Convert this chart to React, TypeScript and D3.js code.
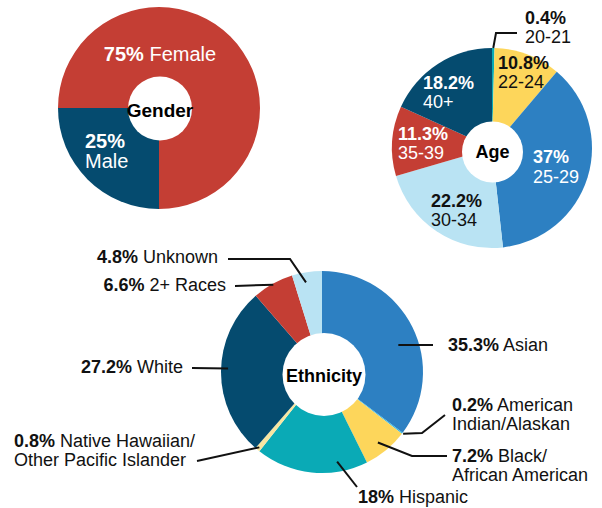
import React from "react";
import * as d3 from "d3";

// ---------- data ----------
const genderLabels = ["Female", "Male"];
const genderValues = [75, 25];

const ageLabels = ["20-21", "22-24", "25-29", "30-34", "35-39", "40+"];
const ageValues = [0.4, 10.8, 37, 22.2, 11.3, 18.2];

const ethLabels = [
  "Asian",
  "American Indian/Alaskan",
  "Black/African American",
  "Hispanic",
  "Native Hawaiian/Other Pacific Islander",
  "White",
  "2+ Races",
  "Unknown",
];
const ethValues = [35.3, 0.2, 7.2, 18, 0.8, 27.2, 6.6, 4.8];

// ---------- styles ----------
const C = {
  red: "#c43e34",
  navy: "#054b6f",
  blue: "#2d80c2",
  light: "#b9e3f3",
  yellow: "#fdd65b",
  teal: "#0aaab6",
  cyan: "#35b7e6",
  pale: "#f8e6a2",
};
const genderColors = [C.red, C.navy];
const ageColors = [C.teal, C.yellow, C.blue, C.light, C.red, C.navy];
const ethColors = [C.blue, C.cyan, C.yellow, C.teal, C.pale, C.navy, C.red, C.light];

const FONT = "'Liberation Sans', Arial, Helvetica, sans-serif";

type Line = { bold?: string; text: string };
type LabelLayout = {
  lines: Line[];
  x: number;
  y: number;
  anchor: "start" | "middle" | "end";
  color: string;
  lineH: number;
  size: number;
  leader?: { r: number; shift: number; pts: [number, number][] };
};

function pct(v: number) {
  return `${v}%`;
}

function Donut({
  cx,
  cy,
  r,
  hole,
  values,
  colors,
  start,
  title,
  titleSize,
  titleDy,
  labels,
}: {
  cx: number;
  cy: number;
  r: number;
  hole: { dx: number; dy: number; r: number };
  values: number[];
  colors: string[];
  start: number;
  title: string;
  titleSize: number;
  titleDy: number;
  labels: LabelLayout[];
}) {
  const pie = d3
    .pie<number>()
    .sort(null)
    .value((d) => d)
    .startAngle(start)
    .endAngle(start + 2 * Math.PI);
  const arcs = pie(values);
  const arc = d3.arc<d3.PieArcDatum<number>>().innerRadius(0).outerRadius(r);
  return (
    <g>
      <g transform={`translate(${cx},${cy})`}>
        {arcs.map((a, i) => (
          <path key={i} d={arc(a) || ""} fill={colors[i]} />
        ))}
        <circle cx={hole.dx} cy={hole.dy} r={hole.r} fill="#fff" />
        <text
          textAnchor="middle"
          x={hole.dx}
          y={titleDy}
          fontFamily={FONT}
          fontWeight="bold"
          fontSize={titleSize}
          fill="#000"
        >
          {title}
        </text>
      </g>
      {labels.map((lb, i) => {
        let leader = null;
        if (lb.leader) {
          const a = arcs[i];
          const mid = (a.startAngle + a.endAngle) / 2 + (lb.leader.shift * Math.PI) / 180;
          const ax = cx + lb.leader.r * Math.sin(mid);
          const ay = cy - lb.leader.r * Math.cos(mid);
          const pts: [number, number][] = [[ax, ay], ...lb.leader.pts];
          leader = (
            <path
              d={d3.line()(pts) || ""}
              fill="none"
              stroke="#111"
              strokeWidth={2}
            />
          );
        }
        return (
          <g key={i}>
            {leader}
            {lb.lines.map((ln, j) => (
              <text
                key={j}
                x={lb.x}
                y={lb.y + j * lb.lineH}
                textAnchor={lb.anchor}
                fontFamily={FONT}
                fontSize={lb.size}
                fill={lb.color}
              >
                {ln.bold ? <tspan fontWeight="bold">{ln.bold}</tspan> : null}
                {ln.bold && ln.text ? " " : ""}
                {ln.text}
              </text>
            ))}
          </g>
        );
      })}
    </g>
  );
}

export default function App() {
  const W = 602;
  const H = 508;
  const dark = "#111";
  const white = "#fff";

  const genderLayout: LabelLayout[] = [
    {
      lines: [{ bold: pct(genderValues[0]), text: genderLabels[0] }],
      x: 160,
      y: 61,
      anchor: "middle",
      color: white,
      lineH: 20,
      size: 20,
    },
    {
      lines: [{ bold: pct(genderValues[1]), text: "" }, { text: genderLabels[1] }],
      x: 85,
      y: 148,
      anchor: "start",
      color: white,
      lineH: 20,
      size: 20,
    },
  ];

  const agePos: [number, number, number, string][] = [
    [525, 24, 19, dark],
    [498, 69, 19, dark],
    [533, 163, 20, white],
    [431, 207, 19, dark],
    [398, 140, 19, white],
    [423, 89, 19, white],
  ];
  const ageLayout: LabelLayout[] = ageValues.map((v, i) => ({
    lines: [{ bold: pct(v), text: "" }, { text: ageLabels[i] }],
    x: agePos[i][0],
    y: agePos[i][1],
    anchor: "start",
    color: agePos[i][3],
    lineH: agePos[i][2],
    size: 18,
    leader: i === 0 ? { r: 100, shift: 0, pts: [[496, 33], [517, 33]] } : undefined,
  }));

  const ethText: Line[][] = [
    [{ bold: pct(ethValues[0]), text: "Asian" }],
    [{ bold: pct(ethValues[1]), text: "American" }, { text: "Indian/Alaskan" }],
    [{ bold: pct(ethValues[2]), text: "Black/" }, { text: "African American" }],
    [{ bold: pct(ethValues[3]), text: "Hispanic" }],
    [{ bold: pct(ethValues[4]), text: "Native Hawaiian/" }, { text: "Other Pacific Islander" }],
    [{ bold: pct(ethValues[5]), text: "White" }],
    [{ bold: pct(ethValues[6]), text: "2+ Races" }],
    [{ bold: pct(ethValues[7]), text: "Unknown" }],
  ];
  const ethPos: {
    x: number;
    y: number;
    anchor: "start" | "end";
    r: number;
    shift: number;
    pts: [number, number][];
  }[] = [
    { x: 448, y: 351, anchor: "start", r: 81, shift: 7, pts: [[433, 345]] },
    { x: 452, y: 411, anchor: "start", r: 102, shift: 0, pts: [[422, 433], [445, 415]] },
    { x: 452, y: 462, anchor: "start", r: 90, shift: 1, pts: [[412, 456], [447, 456]] },
    { x: 358, y: 503, anchor: "start", r: 91, shift: -15.5, pts: [[357, 487]] },
    { x: 14, y: 447, anchor: "start", r: 98, shift: 0, pts: [[197, 461]] },
    { x: 183, y: 373, anchor: "end", r: 94, shift: 2, pts: [[192, 368]] },
    { x: 226, y: 291, anchor: "end", r: 100, shift: 0, pts: [[235, 286]] },
    { x: 218, y: 263, anchor: "end", r: 91, shift: -1.5, pts: [[290, 259], [228, 259]] },
  ];
  const ethLayout: LabelLayout[] = ethText.map((lines, i) => ({
    lines,
    x: ethPos[i].x,
    y: ethPos[i].y,
    anchor: ethPos[i].anchor,
    color: dark,
    lineH: 19,
    size: 18,
    leader: { r: ethPos[i].r, shift: ethPos[i].shift, pts: ethPos[i].pts },
  }));

  return (
    <svg
      width={W}
      height={H}
      viewBox={`0 0 ${W} ${H}`}
      style={{ position: "absolute", left: 0, top: 0, background: "#fff" }}
    >
      <rect width={W} height={H} fill="#fff" />
      <Donut
        cx={159}
        cy={108}
        r={101}
        hole={{ dx: 1, dy: 0.5, r: 32 }}
        values={genderValues}
        colors={genderColors}
        start={-Math.PI / 2}
        title="Gender"
        titleSize={19}
        titleDy={9}
        labels={genderLayout}
      />
      <Donut
        cx={492}
        cy={148}
        r={100}
        hole={{ dx: 0.5, dy: 4, r: 30.5 }}
        values={ageValues}
        colors={ageColors}
        start={0}
        title="Age"
        titleSize={18}
        titleDy={10}
        labels={ageLayout}
      />
      <Donut
        cx={322}
        cy={372}
        r={101}
        hole={{ dx: 2, dy: 2.5, r: 41.5 }}
        values={ethValues}
        colors={ethColors}
        start={0}
        title="Ethnicity"
        titleSize={18}
        titleDy={10}
        labels={ethLayout}
      />
    </svg>
  );
}
